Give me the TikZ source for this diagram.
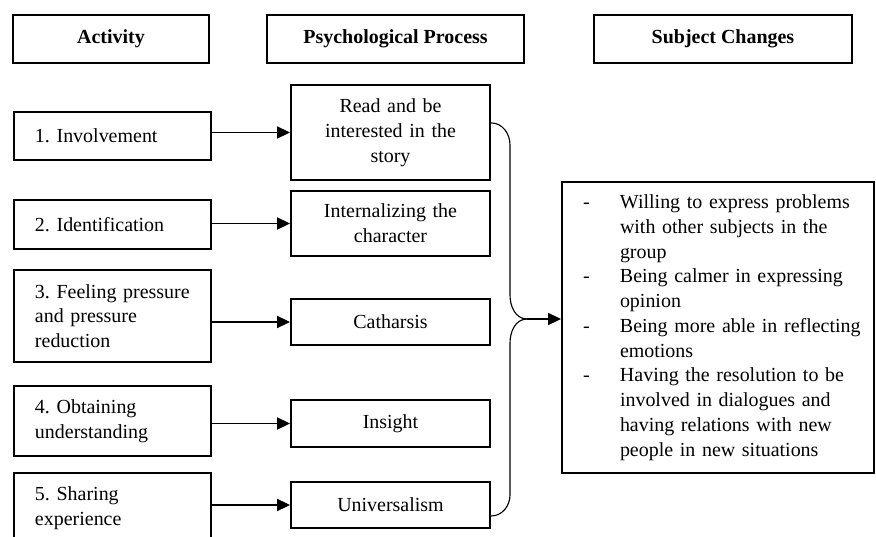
\documentclass[tikz,border=0pt]{standalone}
\usepackage{fontspec}
\setmainfont{Liberation Serif}
\usetikzlibrary{arrows.meta}
\newcommand{\boxfont}{\fontsize{14.2}{17.6}\selectfont\frenchspacing\hyphenpenalty=10000 }

\begin{document}
\begin{tikzpicture}[>={Triangle[length=0.32cm,width=0.3cm]}, x=1cm, y=1cm]

\tikzset{
  head/.style={
    draw,
    line width=1.4pt,
    fill=white,
    align=center,
    inner sep=0pt,
    minimum height=1.2cm,
    font=\boxfont\bfseries
  },
  act/.style={
    draw,
    line width=1.4pt,
    fill=white,
    align=left,
    inner xsep=0.525cm,
    inner ysep=0pt,
    text width=3.875cm,
    font=\boxfont
  },
  proc/.style={
    draw,
    line width=1.4pt,
    fill=white,
    align=center,
    inner xsep=0.2cm,
    inner ysep=0pt,
    text width=4.575cm,
    font=\boxfont
  },
  result/.style={
    draw,
    line width=1.4pt,
    fill=white,
    align=left,
    inner xsep=0.4cm,
    inner ysep=0pt,
    text width=7cm,
    minimum height=7.275cm,
    font=\boxfont
  }
}

\useasboundingbox (0,0) rectangle (21.9,-13.425);
\clip (0,0) rectangle (21.9,-13.425);

% Column headings
\node[head, minimum width=4.9cm]   (h-act)  at (2.775,-0.975)  {Activity};
\node[head, minimum width=6.425cm] (h-proc) at (9.8875,-0.975) {Psychological Process};
\node[head, minimum width=6.45cm]  (h-chg)  at (18.075,-0.975) {Subject Changes};

% Activities (last one runs off the page)
\node[act, minimum height=1.2cm]   (invol)   at (2.8125,-3.4)    {1. Involvement};
\node[act, minimum height=1.225cm] (ident)   at (2.8125,-5.6125) {2. Identification};
\node[act, minimum height=2.3cm]   (press)   at (2.8125,-7.9)    {3. Feeling pressure\\and pressure\\reduction};
\node[act, minimum height=1.75cm]  (underst) at (2.8125,-10.525) {4. Obtaining\\understanding};
\node[act, minimum height=1.75cm]  (share)   at (2.8125,-12.7)   {5. Sharing\\experience};

% Psychological processes
\node[proc, minimum height=2.375cm] (read)    at (9.7625,-3.3125)  {Read and be\\interested in the\\story};
\node[proc, minimum height=1.625cm] (intern)  at (9.7625,-5.5875)  {Internalizing the\\character};
\node[proc, minimum height=1.15cm]  (cath)    at (9.7625,-8.05)    {Catharsis};
\node[proc, minimum height=1.175cm] (insight) at (9.7625,-10.5875) {Insight};
\node[proc, minimum height=1.15cm]  (univ)    at (9.7625,-12.625)  {Universalism};

\node[result] (result) at (17.95,-8.1875) {%
  \begin{tabular}{@{\hspace{0.125cm}}p{0.925cm}@{}l@{}}
  - & Willing to express problems\\
    & with other subjects in the\\
    & group\\
  - & Being calmer in expressing\\
    & opinion\\
  - & Being more able in reflecting\\
    & emotions\\
  - & Having the resolution to be\\
    & involved in dialogues and\\
    & having relations with new\\
    & people in new situations
  \end{tabular}};

\draw[->, line width=1pt] (invol.east |- read.west) -- (read.west);
\draw[->, line width=1pt] (ident.east |- intern.west) -- (intern.west);
\draw[->, line width=1pt] (press.east |- cath.west) -- (cath.west);
\draw[->, line width=1pt] (underst.east |- insight.west) -- (insight.west);
\draw[->, line width=1pt] (share.east |- univ.west) -- (univ.west);

% Brace gathering the processes
\coordinate (tip) at (13.175,-7.975);
\draw[line width=0.8pt] ([yshift=0.24cm]read.east) to[out=0,in=90] (12.75,-3.625)
  -- (12.75,-7.375) to[out=-90,in=180] (tip);
\draw[line width=0.8pt] ([yshift=-0.275cm]univ.east) to[out=0,in=-90] (12.75,-12.375)
  -- (12.75,-8.575) to[out=90,in=180] (tip);
\draw[->, line width=1pt] (tip) -- (result.west |- tip);

\end{tikzpicture}
\end{document}
